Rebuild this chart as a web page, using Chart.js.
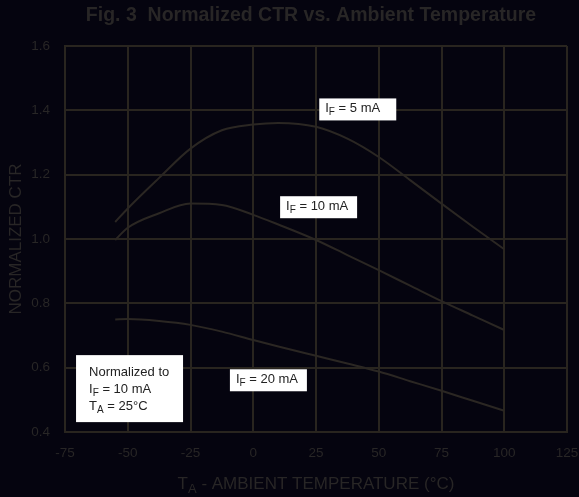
<!DOCTYPE html>
<html>
<head>
<meta charset="utf-8">
<script src="https://cdn.jsdelivr.net/npm/chart.js@4"></script>
<style>
  html, body { margin: 0; padding: 0; background: #05040f; }
  #wrap { width: 579px; height: 497px; }
</style>
</head>
<body>
<div id="wrap"><canvas id="ctrChart"></canvas></div>
<script>
// Data
const temps = [-55, -50, -37.5, -25, -12.5, 0, 10, 25, 37.5, 50, 62.5, 75, 87.5, 100];
const ctr5mA = [1.053, 1.095, 1.19, 1.281, 1.338, 1.356, 1.361, 1.349, 1.312, 1.255, 1.183, 1.11, 1.038, 0.968];
const ctr10mA = [0.997, 1.035, 1.08, 1.11, 1.106, 1.075, 1.045, 0.997, 0.95, 0.903, 0.855, 0.807, 0.762, 0.717];
const ctr20mA = [0.75, 0.751, 0.745, 0.733, 0.712, 0.686, 0.666, 0.637, 0.613, 0.588, 0.558, 0.528, 0.497, 0.466];
const xTicks = [-75, -50, -25, 0, 25, 50, 75, 100, 125];
const yTicks = [0.4, 0.6, 0.8, 1.0, 1.2, 1.4, 1.6];

const lineColor = '#2b2723';
const gridColor = '#29251f';
const textColor = '#282626';
const font = 'Liberation Sans, Arial, Helvetica, sans-serif';

function toPoints(ys) {
    return temps.map((t, i) => ({ x: t, y: ys[i] }));
}

// Curve labels: [main, subscript, rest], box top-left in data coords
const curveLabels = [
    { parts: ['I', 'F', ' = 5 mA'], x: 26.3, y: 1.437 },
    { parts: ['I', 'F', ' = 10 mA'], x: 10.7, y: 1.133 },
    { parts: ['I', 'F', ' = 20 mA'], x: -9.3, y: 0.595 }
];
const noteLines = [['Normalized to', '', ''], ['I', 'F', ' = 10 mA'], ['T', 'A', ' = 25°C']];
const notePos = { x: -70.6, y: 0.639 };

function drawSub(ctx, parts, x, y, size) {
    ctx.font = size + 'px ' + font;
    ctx.fillText(parts[0], x, y);
    let w = ctx.measureText(parts[0]).width;
    ctx.font = Math.round(size * 0.78) + 'px ' + font;
    ctx.fillText(parts[1], x + w, y + size * 0.3);
    w += ctx.measureText(parts[1]).width;
    ctx.font = size + 'px ' + font;
    ctx.fillText(parts[2], x + w, y);
    return w + ctx.measureText(parts[2]).width;
}

function subWidth(ctx, parts, size) {
    ctx.font = size + 'px ' + font;
    let w = ctx.measureText(parts[0]).width + ctx.measureText(parts[2]).width;
    ctx.font = Math.round(size * 0.78) + 'px ' + font;
    return w + ctx.measureText(parts[1]).width;
}

const textPlugin = {
    id: 'textPlugin',
    afterDraw(chart) {
        const ctx = chart.ctx;
        const xs = chart.scales.x, ys = chart.scales.y;
        const area = chart.chartArea;
        ctx.save();

        // title
        ctx.fillStyle = textColor;
        ctx.font = 'bold 19.5px ' + font;
        ctx.textAlign = 'center';
        ctx.textBaseline = 'middle';
        ctx.fillText('Fig. 3  Normalized CTR vs. Ambient Temperature', (area.left + area.right) / 2 - 5, 16);

        // x axis title
        ctx.textAlign = 'left';
        const xTitle = ['T', 'A', ' - AMBIENT TEMPERATURE (°C)'];
        const startX = (area.left + area.right) / 2 - subWidth(ctx, xTitle, 17) / 2;
        drawSub(ctx, xTitle, startX, 484, 17);

        // y axis title
        ctx.save();
        ctx.translate(16, (area.top + area.bottom) / 2);
        ctx.rotate(-Math.PI / 2);
        ctx.textAlign = 'center';
        ctx.font = '17px ' + font;
        ctx.fillText('NORMALIZED CTR', 0, 0);
        ctx.restore();

        // curve labels
        ctx.textAlign = 'left';
        ctx.textBaseline = 'middle';
        curveLabels.forEach(l => {
            const px = xs.getPixelForValue(l.x), py = ys.getPixelForValue(l.y);
            ctx.fillStyle = '#ffffff';
            ctx.fillRect(px, py, 77, 22);
            ctx.fillStyle = '#222222';
            drawSub(ctx, l.parts, px + 6, py + 10, 13);
        });

        // normalization note
        const nx = xs.getPixelForValue(notePos.x), ny = ys.getPixelForValue(notePos.y);
        ctx.fillStyle = '#ffffff';
        ctx.fillRect(nx, ny, 107, 67);
        ctx.fillStyle = '#222222';
        noteLines.forEach((parts, i) => {
            drawSub(ctx, parts, nx + 13, ny + 17 + i * 17.3, 13);
        });

        ctx.restore();
    }
};

const series = [ctr5mA, ctr10mA, ctr20mA].map(ys => ({
    data: toPoints(ys),
    borderColor: lineColor,
    borderWidth: 2,
    pointRadius: 0,
    fill: false,
    cubicInterpolationMode: 'monotone'
}));

new Chart(document.getElementById('ctrChart'), {
    type: 'line',
    data: { datasets: series },
    options: {
        responsive: true,
        maintainAspectRatio: false,
        animation: false,
        layout: { padding: { top: 46, right: 12, left: 0, bottom: 0 } },
        plugins: {
            legend: { display: false },
            tooltip: { enabled: false }
        },
        scales: {
            x: {
                type: 'linear',
                min: -75,
                max: 125,
                afterFit(scale) {
                    scale.height = 65;
                    scale.paddingRight = 0;
                    scale.paddingLeft = 0;
                },
                afterBuildTicks(scale) { scale.ticks = xTicks.map(v => ({ value: v })); },
                grid: { color: gridColor, lineWidth: 2, drawTicks: false },
                border: { color: gridColor, width: 2 },
                ticks: {
                    color: textColor,
                    padding: 13,
                    font: { family: font, size: 13.5 },
                    callback: v => String(v)
                }
            },
            y: {
                min: 0.4,
                max: 1.6,
                afterFit(scale) { scale.width = 65; },
                afterBuildTicks(scale) { scale.ticks = yTicks.map(v => ({ value: v })); },
                grid: { color: gridColor, lineWidth: 2, drawTicks: false },
                border: { color: gridColor, width: 2 },
                ticks: {
                    color: textColor,
                    padding: 15,
                    font: { family: font, size: 13.5 },
                    callback: v => v.toFixed(1)
                }
            }
        }
    },
    plugins: [textPlugin]
});
</script>
</body>
</html>
